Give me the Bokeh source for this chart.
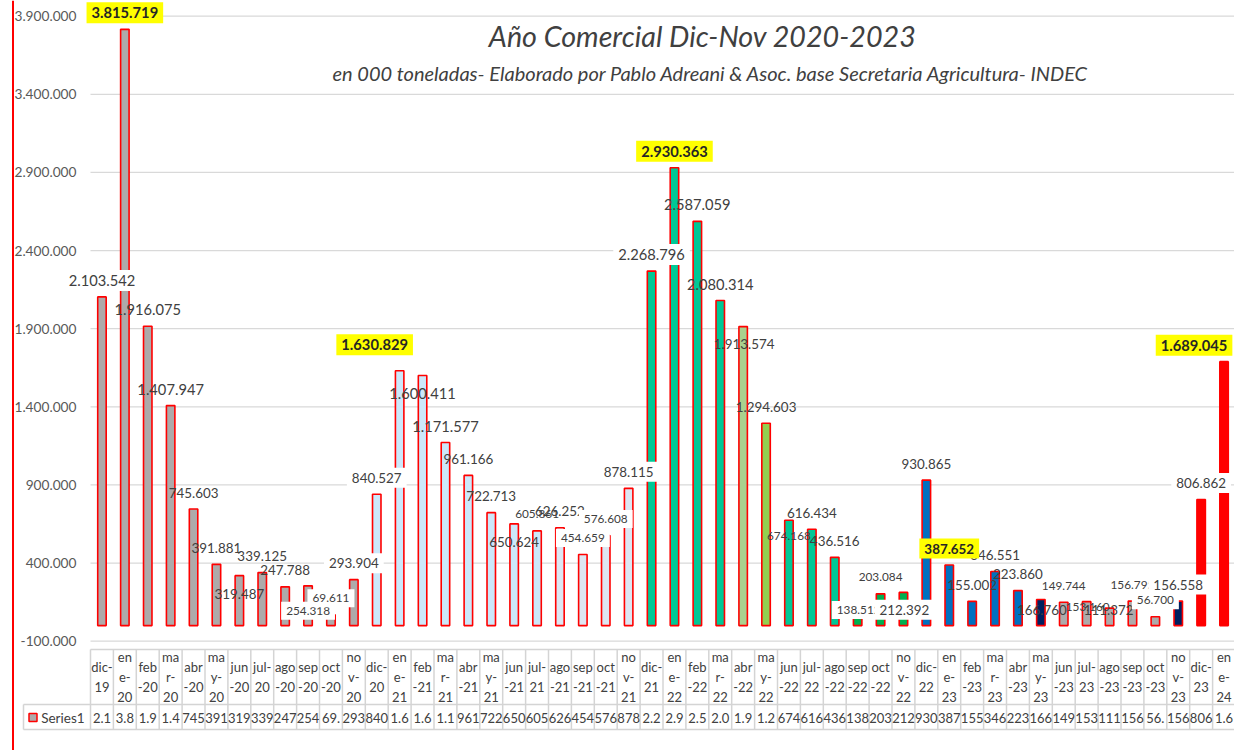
from bokeh.plotting import figure
from bokeh.models import ColumnDataSource, Range1d, LinearAxis, FixedTicker, CustomJSTickFormatter
from bokeh.core.properties import value
from bokeh.embed import file_html
from bokeh.resources import INLINE

# ---------------- data ----------------
CATEGORIES = ["dic-19", "ene-20", "feb-20", "mar-20", "abr-20", "may-20", "jun-20", "jul-20", "ago-20", "sep-20", "oct-20", "nov-20",
              "dic-20", "ene-21", "feb-21", "mar-21", "abr-21", "may-21", "jun-21", "jul-21", "ago-21", "sep-21", "oct-21", "nov-21",
              "dic-21", "ene-22", "feb-22", "mar-22", "abr-22", "may-22", "jun-22", "jul-22", "ago-22", "sep-22", "oct-22", "nov-22",
              "dic-22", "ene-23", "feb-23", "mar-23", "abr-23", "may-23", "jun-23", "jul-23", "ago-23", "sep-23", "oct-23", "nov-23",
              "dic-23", "ene-24"]
VALUES = [2103542, 3815719, 1916075, 1407947, 745603, 391881, 319487, 339125, 247788, 254318, 69611, 293904,
          840527, 1630829, 1600411, 1171577, 961166, 722713, 650624, 605861, 626252, 454659, 576608, 878115,
          2268796, 2930363, 2587059, 2080314, 1913574, 1294603, 674168, 616434, 436516, 138512, 203084, 212392,
          930865, 387652, 155002, 346551, 223860, 166760, 149744, 153160, 111372, 156795, 56700, 156558,
          806862, 1689045]
Y_TICKS = [-100000, 400000, 900000, 1400000, 1900000, 2400000, 2900000, 3400000, 3900000]
SERIES_NAME = "Series1"
TITLE = "Año Comercial Dic-Nov  2020-2023"
SUBTITLE = "en 000 toneladas- Elaborado por Pablo Adreani & Asoc. base Secretaria  Agricultura- INDEC"

# ---------------- styles ----------------
GRAY, LBLUE, PBLUE = "#AEAAAA", "#CCE8FA", "#DDE6F2"
TEAL, LGREEN, YGREEN, GREEN = "#00C896", "#A9D18E", "#92D050", "#00B050"
BLUE, NAVY, MGRAY, RED = "#0070C0", "#002060", "#AEAAAA", "#FF0000"
BAR_COLORS = ([GRAY] * 12 +
              [LBLUE] * 8 + [PBLUE] * 4 +
              [TEAL] * 4 + [LGREEN, YGREEN] + [TEAL] * 3 + [GREEN] * 3 +
              [BLUE] * 5 + [NAVY] + [MGRAY] * 5 + [NAVY] +
              [RED] * 2)
WHITE_BG = {0, 9, 10, 11, 12, 21, 22, 23, 24, 33, 35, 45, 46, 47, 48}
SMALL = {9, 10, 19, 21, 22, 30, 33, 34, 42, 43, 45, 46}
MEDIUM = {28, 29}
# label nudges (dx, dy) in px relative to bar top; default above the bar
NUDGE = {6: (0, 18), 9: (0, 25), 13: (-25, -26), 14: (0, 18), 18: (0, 17.6), 28: (1, 17),
         30: (0, 16), 33: (1, 6), 35: (1, 17.4), 41: (1, 10), 43: (1, 5), 44: (-1, 1.6),
         49: (-30, -16.5)}
DEFAULT_DY = -16.5
FONT = "Lato"
TXT = "#404040"

WRAP = {"dic": "dic-\n{y}", "ene": "en\ne-\n{y}", "feb": "feb\n-{y}", "mar": "ma\nr-\n{y}",
        "abr": "abr\n-{y}", "may": "ma\ny-\n{y}", "jun": "jun\n-{y}", "jul": "jul-\n{y}",
        "ago": "ago\n-{y}", "sep": "sep\n-{y}", "oct": "oct\n-{y}", "nov": "no\nv-\n{y}"}


def fmt(v):
    return f"{v:,}".replace(",", ".")


def wrap(cat):
    m, y = cat.split("-")
    return WRAP[m].format(y=y)


# ---------------- geometry (page px) ----------------
W, H = 1234, 750
PXC = 22.9         # px per category
LEFT = 90          # left edge of category area
VPP = 6400         # value units per px
Y_TOP_TICK_PX = 15.7


def cx(X):
    return (X - LEFT) / PXC


x0 = -LEFT / PXC
y_end = Y_TICKS[-1] + Y_TOP_TICK_PX * VPP
p = figure(width=W, height=H, x_range=Range1d(x0, x0 + W / PXC),
           y_range=Range1d(y_end - H * VPP, y_end),
           x_axis_type=None, y_axis_type=None, toolbar_location=None,
           output_backend="svg", min_border=0, outline_line_color=None,
           background_fill_color="white", border_fill_color="white")
p.extra_x_ranges = {"px": Range1d(0, W)}
p.extra_y_ranges = {"px": Range1d(H, 0)}

n = len(CATEGORIES)

# gridlines
p.segment(x0=[0] * len(Y_TICKS), x1=[n + 2] * len(Y_TICKS), y0=Y_TICKS, y1=Y_TICKS,
          line_color="#D9D9D9", line_width=1.3)

# y axis
yaxis = LinearAxis(fixed_location=0, ticker=FixedTicker(ticks=Y_TICKS),
                   formatter=CustomJSTickFormatter(code="return tick.toString().replace(/\\B(?=(\\d{3})+(?!\\d))/g, '.')"),
                   axis_line_color=None, major_tick_line_color=None, minor_tick_line_color=None,
                   major_tick_out=0, major_tick_in=0, major_label_standoff=14,
                   major_label_text_font=FONT, major_label_text_font_size="13.7px",
                   major_label_text_color="#595959")
p.add_layout(yaxis, "left")

# bars
xs = [i + 0.5 for i in range(n)]
bar_src = ColumnDataSource(dict(x=xs, top=VALUES, color=BAR_COLORS))
p.vbar(x="x", top="top", bottom=0, width=0.37, source=bar_src,
       fill_color="color", line_color=RED, line_width=1.6)

# data labels
hl = [c.startswith("ene") for c in CATEGORIES]
norm = dict(x=[], y=[], text=[], xo=[], yo=[], fs=[], bga=[])
high = dict(x=[], y=[], text=[], xo=[], yo=[], fs=[])
for i, v in enumerate(VALUES):
    dx, dy = NUDGE.get(i, (0, DEFAULT_DY))
    if i in SMALL:
        fs = "11.8px"
    elif i in MEDIUM:
        fs = "13.4px"
    elif v >= 1_000_000:
        fs = "14.7px"
    else:
        fs = "13.4px"
    d = high if hl[i] else norm
    d["x"].append(i + 0.5)
    d["y"].append(v)
    d["text"].append(fmt(v))
    d["xo"].append(dx)
    d["yo"].append(dy)
    d["fs"].append(fs)
    if not hl[i]:
        d["bga"].append(1.0 if i in WHITE_BG else 0.0)

p.text(x="x", y="y", text="text", x_offset="xo", y_offset="yo", source=ColumnDataSource(norm),
       text_font=value(FONT), text_font_size="fs", text_color=TXT,
       text_align="center", text_baseline="middle",
       background_fill_color="white", background_fill_alpha="bga", padding=5)
p.text(x="x", y="y", text="text", x_offset="xo", y_offset="yo", source=ColumnDataSource(high),
       text_font=value(FONT), text_font_size="fs", text_font_style="bold", text_color="#262626",
       text_align="center", text_baseline="middle",
       background_fill_color="#FFFF00", padding=5)

# titles
p.text(x=[488.3], y=[35], text=[TITLE], x_range_name="px", y_range_name="px",
       text_font=value(FONT), text_font_style="italic", text_font_size="28.7px",
       text_color=TXT, text_align="left", text_baseline="alphabetic")
p.text(x=[332], y=[72.5], text=[SUBTITLE], x_range_name="px", y_range_name="px",
       text_font=value(FONT), text_font_style="italic", text_font_size="20px",
       text_color=TXT, text_align="left", text_baseline="alphabetic")

# left red border
p.segment(x0=[12.5], x1=[12.5], y0=[0], y1=[H], x_range_name="px", y_range_name="px",
          line_color=RED, line_width=2)

# ---------------- data table ----------------
T_TOP, T_MID, T_BOT, T_LEFT = 649, 704, 729, 23
TBL = "#D4D4D4"
hx0 = [0, cx(T_LEFT), cx(T_LEFT)]
hy = [T_TOP, T_MID, T_BOT]
p.segment(x0=hx0, x1=[n + 2] * 3, y0=hy, y1=hy, y_range_name="px", line_color=TBL, line_width=1.5)
vx = list(range(n + 1))
p.segment(x0=vx, x1=vx, y0=[T_TOP] * len(vx), y1=[T_BOT] * len(vx), y_range_name="px",
          line_color=TBL, line_width=1.5)
p.segment(x0=[cx(T_LEFT)], x1=[cx(T_LEFT)], y0=[T_MID], y1=[T_BOT], y_range_name="px",
          line_color=TBL, line_width=1.5)

p.text(x=xs, y=[(T_TOP + T_MID) / 2] * n, text=[wrap(c) for c in CATEGORIES], y_range_name="px",
       text_font=value(FONT), text_font_size="13px", text_color=TXT, text_line_height=1.22,
       text_align="center", text_baseline="middle")
p.text(x=xs, y=[(T_MID + T_BOT) / 2 + 1] * n, text=[fmt(v)[:3] for v in VALUES], y_range_name="px",
       text_font=value(FONT), text_font_size="13px", text_color=TXT,
       text_align="center", text_baseline="middle")
p.text(x=[cx(40.7)], y=[(T_MID + T_BOT) / 2 + 1], text=[SERIES_NAME], y_range_name="px",
       text_font=value(FONT), text_font_size="13.5px", text_color=TXT,
       text_align="left", text_baseline="middle")
p.scatter(x=[cx(32.5)], y=[717], marker="square", size=8, y_range_name="px",
          fill_color=GRAY, line_color=RED, line_width=1.5)

open("out.html", "w").write(file_html(p, INLINE))
